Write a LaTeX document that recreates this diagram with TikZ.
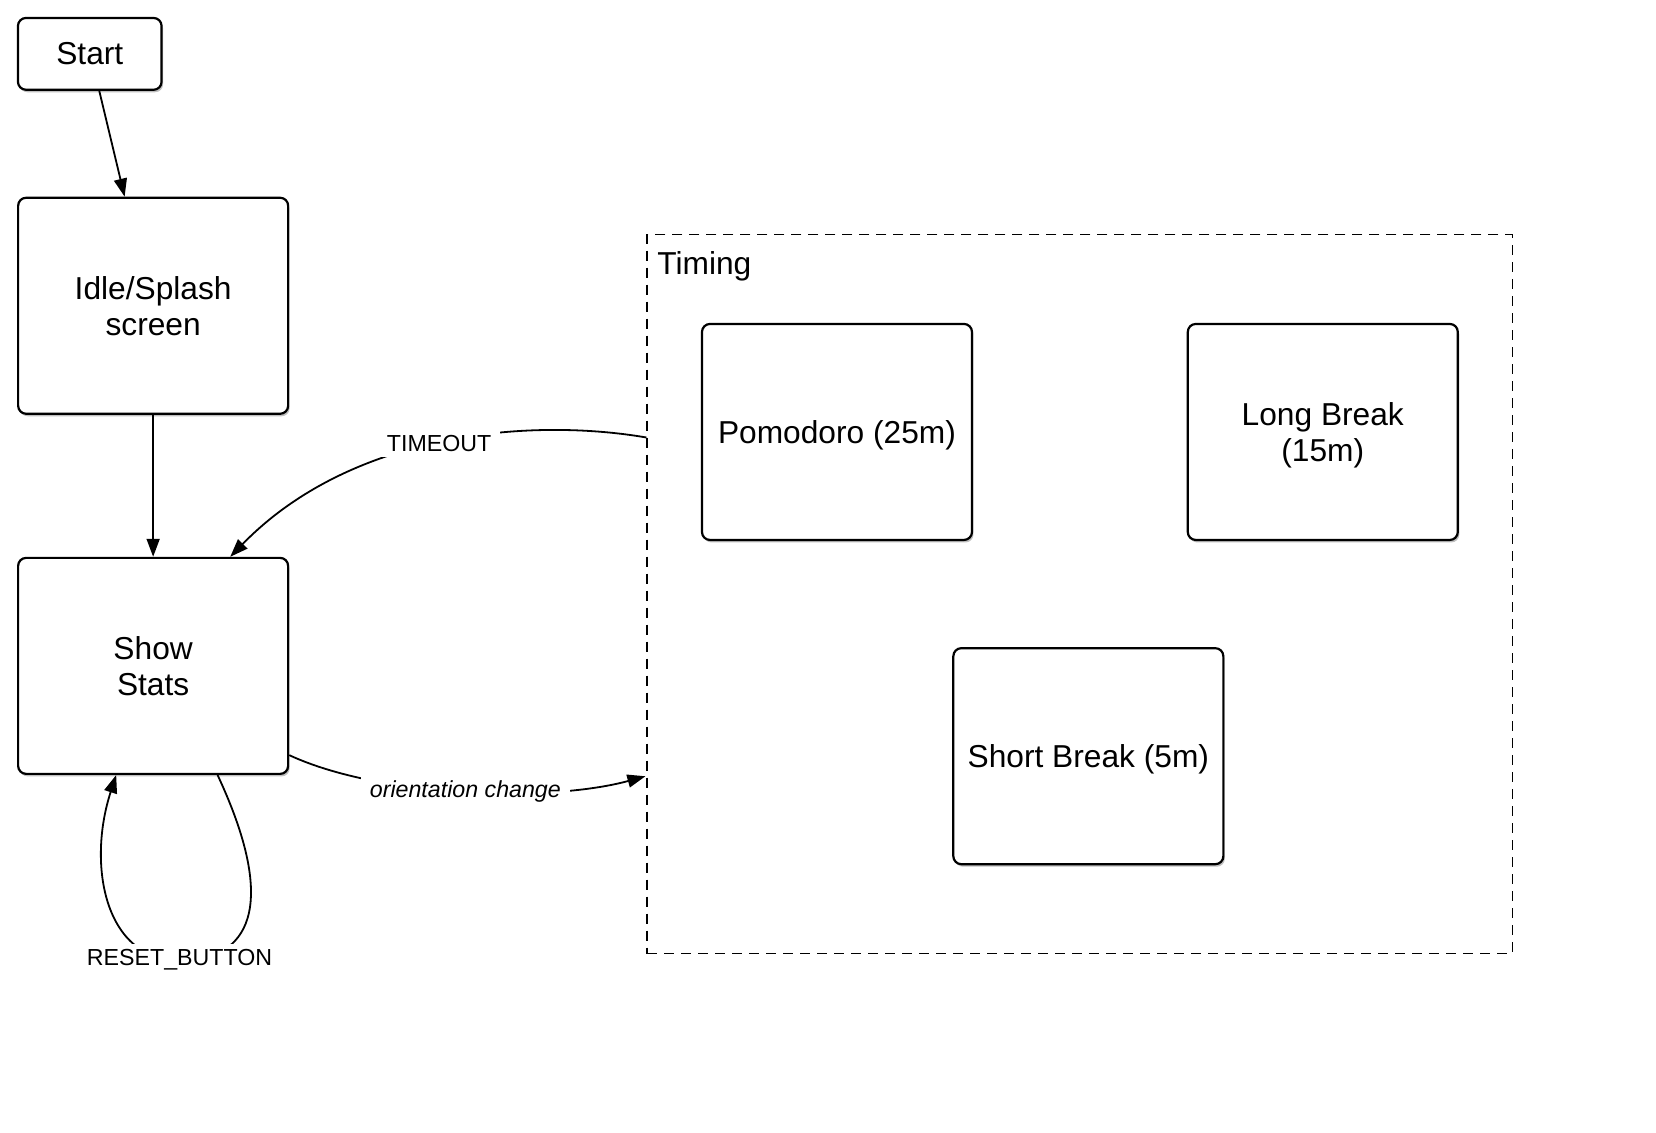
\documentclass[tikz,border=0pt]{standalone}
\usepackage{fontspec}
\setmainfont{Liberation Sans}
\usetikzlibrary{arrows.meta,calc,shadows}
\tikzset{
  state/.style={draw,line width=2.2pt,rounded corners=8pt,fill=white,
    minimum width=270pt,minimum height=216pt,align=center,text depth=0pt,
    font=\fontsize{31.7}{36}\selectfont,
    drop shadow={shadow xshift=1.5pt,shadow yshift=-2.5pt,fill=black,opacity=.25}},
  conn/.style={line width=1.8pt,-{Triangle[length=18pt,width=13pt]}},
  lbl/.style={fill=white,inner xsep=9pt,inner ysep=6pt,font=\fontsize{23.2}{27}\selectfont},
}
\begin{document}
\begin{tikzpicture}[x=1.0561pt,y=-1.0561pt]
\useasboundingbox (0,0) rectangle (1568,1072);
\node [draw,line width=1.8pt,dash pattern=on 10pt off 7pt,
       minimum width=865pt,minimum height=719pt] (timing) at (1022.5,562.5) {};
\node [right,font=\fontsize{31.7}{36}\selectfont] (timinglbl)
      at ($(timing.north west)+(7,31)$) {Timing};

\node [state,minimum width=143.6pt,minimum height=71.8pt] (start) at ( 85  , 51  ) {Start};
\node [state] (idle)  at (145  ,289.5) {Idle/Splash\\screen};
\node [state] (show)  at (145  ,630.5) {Show\\Stats};
\node [state] (pomo)  at (792.5,409  ) {Pomodoro (25m)};
\node [state] (long)  at (1252.5,409 ) {Long Break\\(15m)};
\node [state] (short) at (1030.5,716 ) {Short Break (5m)};

\draw[conn] ($(start.south)+(9,0)$) -- ($(idle.north)+(-27,0)$);
\draw[conn] (idle) -- (show);
\draw[conn]
    ($(timing.north west)+(0,193)$) .. controls (500,395) and (332,410)
    .. node [lbl] (timeout) {TIMEOUT} ($(show.north)+(73,0)$);
\draw[conn]
    ($(show.east)+(0,84.5)$) .. controls (360,755) and (520,760)
    .. node [lbl,font=\fontsize{23.2}{27}\itshape] (orient) {orientation change}
    ($(timing.west)+(-1,172.5)$);
\draw[conn]
    ($(show.south)+(61,0)$) .. controls (265,860) and (235,910)
    .. (170,909) node [lbl] (reset) {RESET\_BUTTON}
    .. controls (100,910) and (82,820) .. ($(show.south)+(-35,0)$);
\end{tikzpicture}
\end{document}
